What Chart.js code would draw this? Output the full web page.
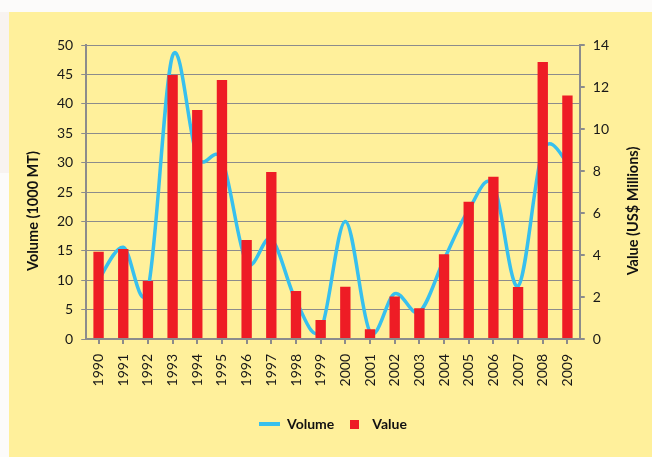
<!DOCTYPE html>
<html>
<head>
<meta charset="utf-8">
<script src="https://cdn.jsdelivr.net/npm/chart.js@4.4.1/dist/chart.umd.min.js"></script>
<style>
    html, body { margin: 0; padding: 0; background: #fcfbfa; }
    body { width: 652px; height: 457px; position: relative; overflow: hidden; }
    #tint { position: absolute; left: 0; top: 12px; width: 9px; height: 161px; background: #f8f3f0; }
    #panel { position: absolute; left: 9px; top: 12px; width: 643px; height: 445px; background: #fff09b; }
    canvas { display: block; }
</style>
</head>
<body>
<div id="tint"></div>
<div id="panel"><canvas id="chart" width="643" height="445"></canvas></div>
<script>
const years = ['1990', '1991', '1992', '1993', '1994', '1995', '1996', '1997', '1998', '1999',
               '2000', '2001', '2002', '2003', '2004', '2005', '2006', '2007', '2008', '2009'];
// volume in 1000 MT (left axis)
const volume = [10, 15.6, 8.5, 48.2, 31, 30.5, 13, 17, 6.5, 1.5,
                20, 1.2, 7.7, 4.6, 13.5, 22, 26.3, 9, 32, 30];
// value in US$ millions (right axis)
const value = [4.15, 4.28, 2.76, 12.57, 10.9, 12.33, 4.71, 7.95, 2.29, 0.9,
               2.49, 0.47, 2.02, 1.47, 4.04, 6.54, 7.73, 2.48, 13.19, 11.6];
const volumeAxis = { min: 0, max: 50, step: 5 };
const valueAxis = { min: 0, max: 14, step: 2 };
const leftTitle = 'Volume (1000 MT)';
const rightTitle = 'Value (US$ Millions)';

const blue = '#37c0ee';
const red = '#ee1c25';
const gridGrey = '#8c8c8c';

Chart.defaults.font.family = 'Lato';
Chart.defaults.color = '#181818';

function swatch(w, h, color) {
    const c = document.createElement('canvas');
    c.width = w;
    c.height = h;
    const g = c.getContext('2d');
    g.fillStyle = color;
    g.fillRect(0, 0, w, h);
    return c;
}
const lineSwatch = swatch(21, 4, blue);
const boxSwatch = swatch(9, 9, red);

//..excel style smoothing: catmull-rom control points on the library's own point positions
const excelSmooth = {
    id: 'excelSmooth',
    beforeDatasetDraw(chart, args) {
        const meta = args.meta;
        if (meta.type !== 'line') return;
        meta.dataset.updateControlPoints(chart.chartArea, 'x');
        const pts = meta.data;
        const n = pts.length;
        pts.forEach((p, i) => {
            const prev = pts[Math.max(i - 1, 0)];
            const next = pts[Math.min(i + 1, n - 1)];
            const dx = (next.x - prev.x) / 6;
            const dy = (next.y - prev.y) / 6;
            p.cp1x = p.x - dx;
            p.cp1y = p.y - dy;
            p.cp2x = p.x + dx;
            p.cp2y = p.y + dy;
        });
    }
};

//..rotated axis titles, both reading upwards
const axisTitles = {
    id: 'axisTitles',
    afterDraw(chart) {
        const { ctx, chartArea } = chart;
        const midY = (chartArea.top + chartArea.bottom) / 2 + 19;
        ctx.save();
        ctx.font = 'bold 14.5px Lato';
        ctx.fillStyle = '#111';
        ctx.textAlign = 'center';
        ctx.textBaseline = 'middle';
        [[24, leftTitle], [624, rightTitle]].forEach(([x, text]) => {
            ctx.save();
            ctx.translate(x, midY);
            ctx.rotate(-Math.PI / 2);
            ctx.fillText(text, 0, 0);
            ctx.restore();
        });
        ctx.restore();
    }
};

new Chart(document.getElementById('chart'), {
    type: 'bar',
    data: {
        labels: years,
        datasets: [{
            type: 'line',
            label: 'Volume',
            data: volume,
            yAxisID: 'y',
            borderColor: blue,
            backgroundColor: blue,
            borderWidth: 3.5,
            pointRadius: 0,
            tension: 0.4,
            order: 2
        }, {
            type: 'bar',
            label: 'Value',
            data: value,
            yAxisID: 'y1',
            backgroundColor: red,
            barPercentage: 0.42,
            categoryPercentage: 1,
            order: 1
        }]
    },
    options: {
        responsive: false,
        animation: false,
        devicePixelRatio: 1,
        layout: { padding: { top: 33, left: 40, right: 35, bottom: 16 } },
        plugins: {
            tooltip: { enabled: false },
            legend: {
                position: 'bottom',
                labels: {
                    usePointStyle: true,
                    pointStyleWidth: 21,
                    padding: 10,
                    color: '#111',
                    font: { size: 14, weight: 'bold' },
                    sort: (a, b) => a.datasetIndex - b.datasetIndex,
                    generateLabels(chart) {
                        const items = Chart.defaults.plugins.legend.labels.generateLabels(chart);
                        items.forEach(it => {
                            it.pointStyle = it.datasetIndex === 0 ? lineSwatch : boxSwatch;
                        });
                        return items;
                    }
                }
            }
        },
        scales: {
            x: {
                grid: { offset: false, drawOnChartArea: false, tickLength: 5, color: gridGrey, lineWidth: 2 },
                border: { color: gridGrey, width: 2 },
                ticks: { minRotation: 90, maxRotation: 90, padding: 10, font: { size: 14 } },
                afterFit(scale) { scale.height = 68; }
            },
            y: {
                position: 'left',
                min: volumeAxis.min,
                max: volumeAxis.max,
                ticks: { stepSize: volumeAxis.step, padding: 8, font: { size: 14 } },
                grid: { color: gridGrey, lineWidth: 1, tickLength: 5 },
                border: { color: gridGrey, width: 2 }
            },
            y1: {
                position: 'right',
                min: valueAxis.min,
                max: valueAxis.max,
                ticks: { stepSize: valueAxis.step, padding: 8, font: { size: 14 } },
                grid: { drawOnChartArea: false, color: gridGrey, lineWidth: 2, tickLength: 5 },
                border: { color: gridGrey, width: 2 }
            }
        }
    },
    plugins: [excelSmooth, axisTitles]
});
</script>
</body>
</html>
